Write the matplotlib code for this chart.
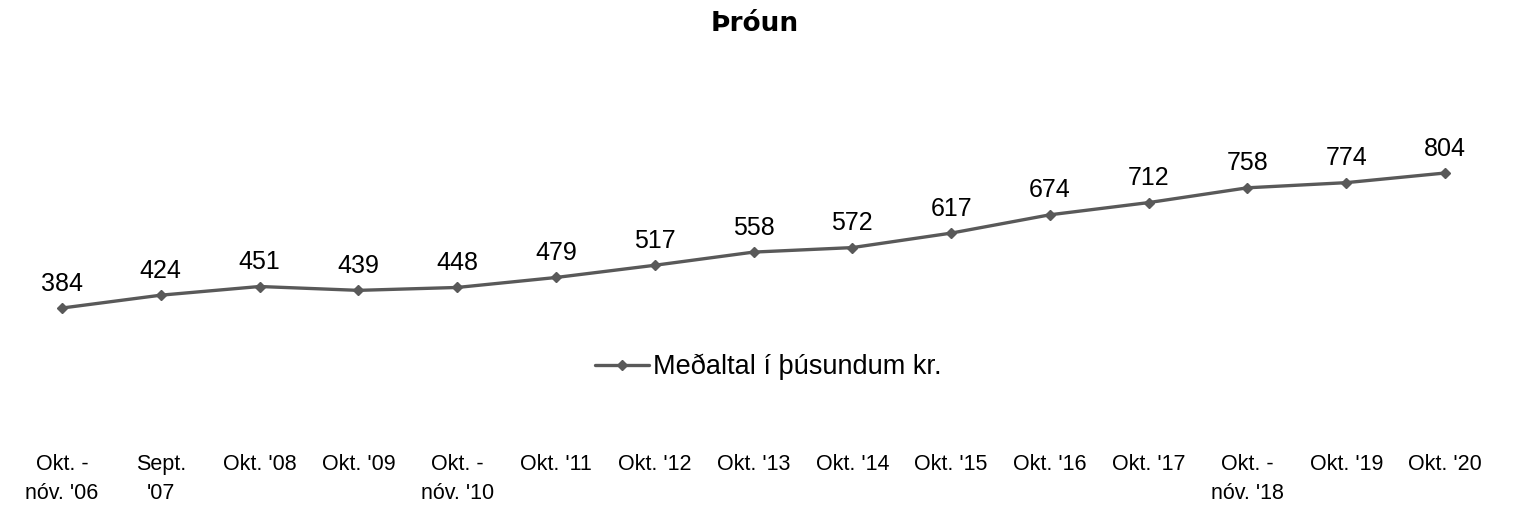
import matplotlib
matplotlib.use("Agg")
import matplotlib.pyplot as plt

categories = ["Okt. -\nnóv. '06", "Sept.\n'07", "Okt. '08", "Okt. '09", "Okt. -\nnóv. '10",
              "Okt. '11", "Okt. '12", "Okt. '13", "Okt. '14", "Okt. '15", "Okt. '16",
              "Okt. '17", "Okt. -\nnóv. '18", "Okt. '19", "Okt. '20"]
values = [384, 424, 451, 439, 448, 479, 517, 558, 572, 617, 674, 712, 758, 774, 804]
series_name = "Meðaltal í þúsundum kr."
title = "Þróun"

plt.rcParams['font.family'] = ['Liberation Sans', 'DejaVu Sans']

W, H = 1514, 508
fig = plt.figure(figsize=(W / 100, H / 100), dpi=100)
left_px, right_px = 12.6, 1494.4
top_px, bot_px = 70, 431.5
ax = fig.add_axes([left_px / W, 1 - bot_px / H, (right_px - left_px) / W, (bot_px - top_px) / H])

x = list(range(len(values)))
color = '#595959'
ax.plot(x, values, color=color, lw=2.4, marker='D', markersize=5, label=series_name,
        solid_capstyle='round')
for xi, v in zip(x, values):
    ax.annotate(str(v), (xi, v), xytext=(0, 9), textcoords='offset points',
                ha='center', va='bottom', fontsize=18, color='black')

ax.set_xlim(-0.5, len(values) - 0.5)
ax.set_ylim(0, 1124.4)
ax.set_xticks(x)
ax.set_xticklabels(categories, fontsize=15.5, linespacing=1.5)
ax.tick_params(axis='x', length=0, pad=16)
ax.set_yticks([])
for s in ax.spines.values():
    s.set_visible(False)

fig.text(755 / W, 1 - 24 / H, title, ha='center', va='center', fontsize=19,
         fontweight='bold', family=['DejaVu Sans'])

leg = ax.legend(loc='center', bbox_to_anchor=(768 / W, 1 - 367 / H), bbox_transform=fig.transFigure,
                frameon=False, fontsize=19.5, handlelength=2.0, handletextpad=0.15)

fig.savefig('out.png', dpi=100)
